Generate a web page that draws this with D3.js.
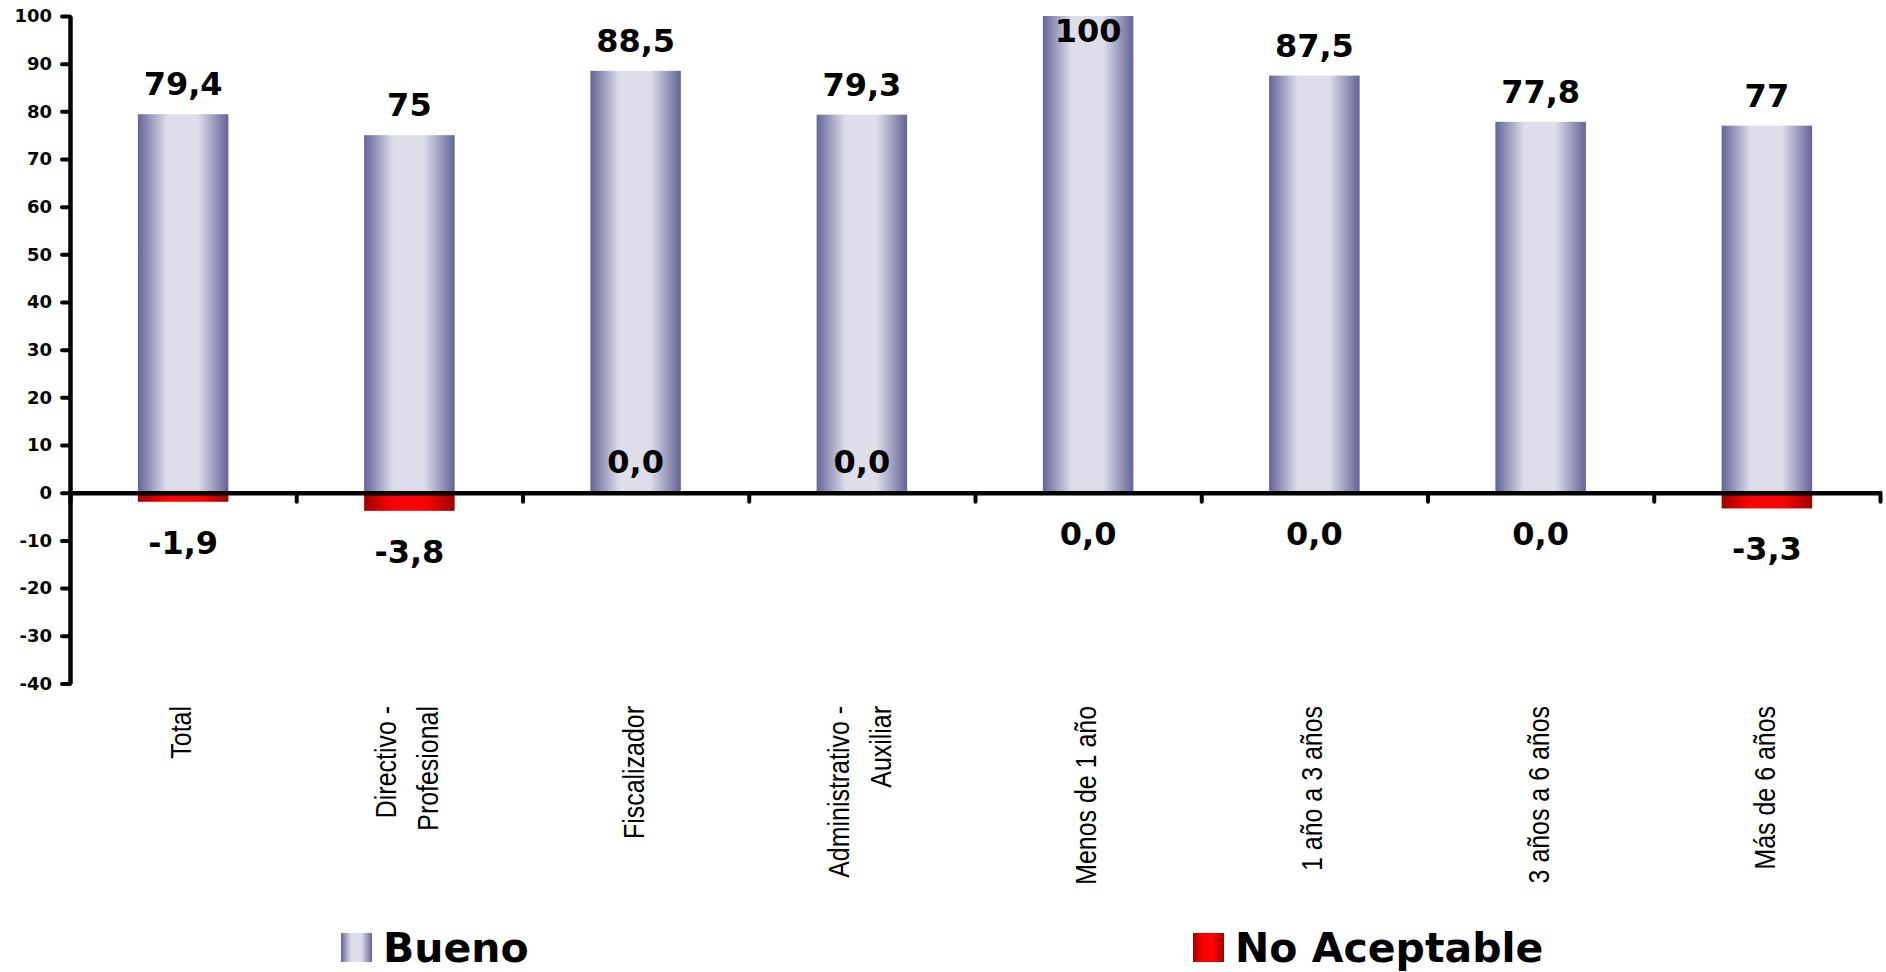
<!DOCTYPE html>
<html><head><meta charset="utf-8">
<script src="https://cdn.jsdelivr.net/npm/d3@7"></script>
<style>body{margin:0;background:#fff}svg{display:block}</style>
</head><body>
<svg id="chart" width="1886" height="972"></svg>
<script>
// ---- data ----
const categories = ["Total", "Directivo - Profesional", "Fiscalizador", "Administrativo - Auxiliar",
  "Menos de 1 año", "1 año a 3 años", "3 años a 6 años", "Más de 6 años"];
const categoryLines = [["Total"], ["Directivo -", "Profesional"], ["Fiscalizador"], ["Administrativo -", "Auxiliar"],
  ["Menos de 1 año"], ["1 año a 3 años"], ["3 años a 6 años"], ["Más de 6 años"]];
const bueno = [79.4, 75, 88.5, 79.3, 100, 87.5, 77.8, 77];
const buenoLabels = ["79,4", "75", "88,5", "79,3", "100", "87,5", "77,8", "77"];
const noAceptable = [-1.9, -3.8, 0.0, 0.0, 0.0, 0.0, 0.0, -3.3];
const noAceptableLabels = ["-1,9", "-3,8", "0,0", "0,0", "0,0", "0,0", "0,0", "-3,3"];
const zeroLabelAbove = ["Fiscalizador", "Administrativo - Auxiliar"];
const yTicks = [-40, -30, -20, -10, 0, 10, 20, 30, 40, 50, 60, 70, 80, 90, 100];
const seriesNames = ["Bueno", "No Aceptable"];

// ---- layout ----
const svg = d3.select("#chart");
const x0 = 70, x1 = 1880;
const y = d3.scaleLinear().domain([-40, 100]).range([683.4, 16]);
const x = d3.scaleBand().domain(categories).range([x0, x1]).paddingInner(0.6).paddingOuter(0.3);
const bLin = d3.scaleLinear().domain([0, categories.length]).range([x0, x1]);

const defs = svg.append("defs");
function grad(id, edge, mid) {
  const g = defs.append("linearGradient").attr("id", id).attr("x1", 0).attr("x2", 1).attr("y1", 0).attr("y2", 0);
  [[0, edge], [0.32, mid], [0.66, mid], [1, edge]].forEach(([o, c]) =>
    g.append("stop").attr("offset", o).attr("stop-color", c));
}
grad("gBueno", "#646498", "#dedeea");
grad("gNA", "#a00000", "#ff0000");

const boldFont = "'DejaVu Sans', Verdana, sans-serif";

// bars: Bueno
svg.append("g").selectAll("rect").data(bueno).join("rect")
  .attr("x", (d, i) => x(categories[i]))
  .attr("width", x.bandwidth())
  .attr("y", d => y(d))
  .attr("height", d => y(0) - y(d))
  .attr("fill", "url(#gBueno)");

// bars: No Aceptable
svg.append("g").selectAll("rect").data(noAceptable).join("rect")
  .attr("x", (d, i) => x(categories[i]))
  .attr("width", x.bandwidth())
  .attr("y", y(0))
  .attr("height", d => y(d) - y(0))
  .attr("fill", "url(#gNA)");

// axes
const yAxis = d3.axisLeft(y).tickValues(yTicks).tickSize(8).tickSizeOuter(0).tickPadding(10)
  .tickFormat(d => String(d));
const gy = svg.append("g").attr("transform", `translate(${x0},0)`).call(yAxis);
gy.select(".domain").attr("stroke", "#000").attr("stroke-width", 4.5);
gy.selectAll(".tick line").attr("stroke", "#000").attr("stroke-width", 4).attr("stroke-linecap", "round");
gy.selectAll(".tick text").attr("font-family", boldFont).attr("font-weight", "bold")
  .attr("font-size", 18).attr("fill", "#000");

const xAxis = d3.axisBottom(bLin).tickValues(d3.range(0, categories.length + 1)).tickSize(9)
  .tickSizeOuter(0).tickFormat("");
const gx = svg.append("g").attr("transform", `translate(0,${y(0)})`).call(xAxis);
gx.select(".domain").attr("stroke", "#000").attr("stroke-width", 4.5);
gx.selectAll(".tick line").attr("stroke", "#000").attr("stroke-width", 4).attr("stroke-linecap", "round");

// value labels Bueno
svg.append("g").selectAll("text").data(bueno).join("text")
  .attr("x", (d, i) => x(categories[i]) + x.bandwidth() / 2)
  .attr("y", d => Math.max(y(d) - 19, y(100) + 26))
  .attr("text-anchor", "middle")
  .attr("font-family", boldFont).attr("font-weight", "bold").attr("font-size", 32)
  .text((d, i) => buenoLabels[i]);

// value labels No Aceptable
svg.append("g").selectAll("text").data(noAceptable).join("text")
  .attr("x", (d, i) => x(categories[i]) + x.bandwidth() / 2)
  .attr("y", (d, i) => zeroLabelAbove.includes(categories[i]) ? y(0) - 20 : y(d) + 52)
  .attr("text-anchor", "middle")
  .attr("font-family", boldFont).attr("font-weight", "bold").attr("font-size", 32)
  .text((d, i) => noAceptableLabels[i]);

// category labels (rotated)
const catG = svg.append("g");
categories.forEach((c, i) => {
  const lines = categoryLines[i];
  const cx = x(c) + x.bandwidth() / 2;
  const lh = 42;
  lines.forEach((ln, j) => {
    const bx = cx + 8 + (j - (lines.length - 1) / 2) * lh;
    catG.append("text")
      .attr("transform", `translate(${bx},706) rotate(-90) scale(0.86,1)`)
      .attr("text-anchor", "end")
      .attr("font-family", "'Liberation Sans', Arial, sans-serif")
      .attr("font-size", 29).attr("fill", "#000")
      .text(ln);
  });
});

// legend
const legend = [{ name: seriesNames[0], fill: "url(#gBueno)", sx: 341, tx: 383 },
                { name: seriesNames[1], fill: "url(#gNA)", sx: 1193, tx: 1235 }];
const lg = svg.append("g");
legend.forEach(l => {
  lg.append("rect").attr("x", l.sx).attr("y", 933).attr("width", 31).attr("height", 29).attr("fill", l.fill);
  lg.append("text").attr("x", l.tx).attr("y", 961.5)
    .attr("font-family", boldFont).attr("font-weight", "bold").attr("font-size", 41)
    .text(l.name);
});
</script>
</body></html>
